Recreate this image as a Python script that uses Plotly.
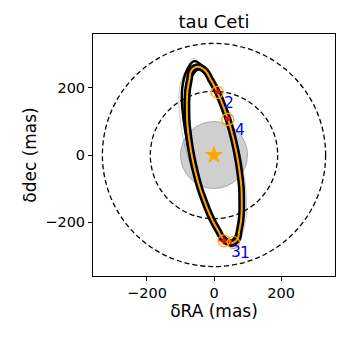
import plotly.graph_objects as go

# best-fit orbit (mas), clockwise from the top
best_ra = [-49, -24.5, -11, 5.6, 19.3, 31.2, 44, 57.5, 68.5, 76.5, 82, 82.8, 82.7, 80.4, 75.1, 70.5, 51,
           26.5, 13.1, -3.6, -17.3, -29.2, -42, -55.5, -66.5, -74.5, -80, -80.8, -80.7, -78.4, -73, -68.5, -49]
best_dec = [263, 250, 227, 197, 167, 136, 100, 50, 0, -50, -100, -136, -167, -197, -227, -250, -263,
            -250, -227, -197, -167, -136, -100, -50, 0, 50, 100, 136, 167, 197, 227, 250, 263]

# a few posterior orbits around the best one
post_a_ra = [-60, -20, -7, 9, 23, 35, 48, 61, 72, 80, 86, 87, 87, 85, 80, 74, 53,
             25, 11, -6, -20, -32, -45, -60, -72, -82, -90, -94, -96, -95, -90, -82, -60]
post_a_dec = [280, 250, 227, 197, 167, 136, 100, 50, 0, -50, -100, -136, -167, -197, -227, -250, -270,
              -250, -227, -197, -167, -136, -100, -50, 0, 50, 100, 136, 167, 197, 227, 250, 280]
post_b_ra = [-45, -14, 3, 16, 28, 41, 54, 65, 73, 78, 79, 79, 77, 71, 50,
             16, 0, -14, -26, -39, -52, -63, -71, -76, -77, -77, -75, -69, -45]
post_b_dec = [255, 227, 197, 167, 136, 100, 50, 0, -50, -100, -136, -167, -197, -227, -255,
              -227, -197, -167, -136, -100, -50, 0, 50, 100, 136, 167, 197, 227, 255]
post_c_ra = [-62, -22, -6, 12, 26, 38, 51, 65, 78, 88, 95, 97, 97, 94, 87, 78, 58,
             28, 13, -4, -19, -32, -48, -64, -80, -92, -100, -104, -105, -103, -96, -85, -62]
post_c_dec = [288, 250, 227, 197, 167, 136, 100, 50, 0, -50, -100, -136, -167, -197, -227, -250, -275,
              -250, -227, -197, -167, -136, -100, -50, 0, 50, 100, 136, 167, 197, 227, 250, 288]

# epochs: model positions and measurements
epoch_labels = ['1', '2', '3', '4']
model_ra = [58, 10, 30, 41]
model_dec = [-261, 187, -256, 106]
meas_ra = [46, 10, 29, 41]
meas_dec = [-258, 189, -256, 108]
meas_ra_err = [3, 3, 17, 3]
meas_dec_err = [3, 3, 12, 3]

star_radius = 100
inner_radius = 190
outer_radius = 333

fig = go.Figure()

for r in [outer_radius, inner_radius]:
    fig.add_shape(type='circle', xref='x', yref='y', x0=-r, y0=-r, x1=r, y1=r,
                  line=dict(color='black', width=1.3, dash='5px,3px'), layer='below')
fig.add_shape(type='circle', xref='x', yref='y', x0=-star_radius, y0=-star_radius,
              x1=star_radius, y1=star_radius, fillcolor='rgba(160,160,160,0.5)',
              line=dict(color='rgba(130,130,130,0.6)', width=1), layer='below')

fig.add_trace(go.Scatter(x=post_c_ra, y=post_c_dec, mode='lines', line_shape='spline',
                         line=dict(color='rgba(0,0,0,0.3)', width=0.7)))
fig.add_trace(go.Scatter(x=post_a_ra, y=post_a_dec, mode='lines', line_shape='spline',
                         line=dict(color='black', width=2.5)))
fig.add_trace(go.Scatter(x=post_b_ra, y=post_b_dec, mode='lines', line_shape='spline',
                         line=dict(color='black', width=2)))
fig.add_trace(go.Scatter(x=best_ra, y=best_dec, mode='lines', line_shape='spline',
                         line=dict(color='black', width=7)))
fig.add_trace(go.Scatter(x=best_ra, y=best_dec, mode='lines', line_shape='spline',
                         line=dict(color='orange', width=2)))

fig.add_trace(go.Scatter(x=[0], y=[0], mode='markers',
                         marker=dict(symbol='star', size=14, color='orange')))

fig.add_trace(go.Scatter(x=meas_ra, y=meas_dec, mode='markers',
                         marker=dict(color='red', size=5),
                         error_x=dict(type='data', array=meas_ra_err, color='red', thickness=1, width=0),
                         error_y=dict(type='data', array=meas_dec_err, color='red', thickness=1, width=0)))
fig.add_trace(go.Scatter(x=model_ra, y=model_dec, mode='markers',
                         marker=dict(symbol='circle-open', size=12, color='orange', line=dict(width=1.2))))

for lab, x, y in zip(epoch_labels, model_ra, model_dec):
    fig.add_annotation(x=x, y=y, text=lab, showarrow=False, xanchor='left', yanchor='top',
                       xshift=5, yshift=0, font=dict(color='blue', size=15.5))

# the page body adds an 8 px offset, so the figure is drawn 8 px smaller
fig.update_layout(
    width=338, height=338,
    margin=dict(l=85, r=11, t=26, b=70),
    plot_bgcolor='white', paper_bgcolor='white',
    showlegend=False,
    font=dict(family='DejaVu Sans', size=14.5, color='black'),
    title=dict(text='tau Ceti', x=0.6095, xanchor='center', y=0.958, yanchor='middle',
               font=dict(size=18)),
)
axis_style = dict(range=[-361, 361], tickvals=[-200, 0, 200], showgrid=False, zeroline=False,
                  showline=True, mirror=True, linecolor='black', linewidth=1, automargin=False,
                  ticks='outside', ticklen=4, tickcolor='black', tickfont=dict(size=14.5))
fig.update_xaxes(title=dict(text='δRA (mas)', standoff=4), **axis_style)
fig.update_yaxes(title=dict(text='δdec (mas)', standoff=4), **axis_style)

fig.write_html('out.html')
